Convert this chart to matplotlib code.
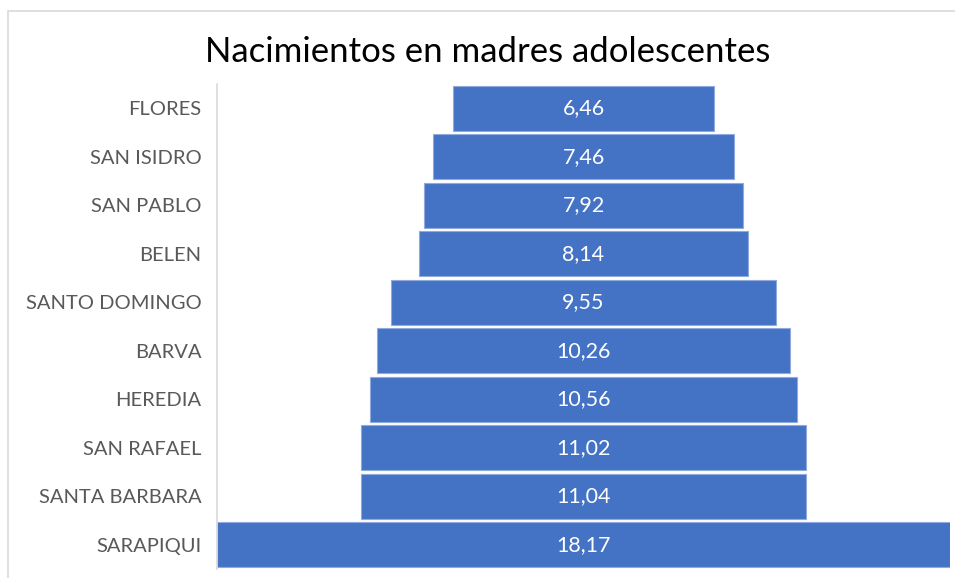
import matplotlib.pyplot as plt
from matplotlib.patches import Rectangle

# ============================================================
# DATA
# ============================================================

cantones = [
    "FLORES", "SAN ISIDRO", "SAN PABLO", "BELEN", "SANTO DOMINGO",
    "BARVA", "HEREDIA", "SAN RAFAEL", "SANTA BARBARA", "SARAPIQUI",
]
valores = [6.46, 7.46, 7.92, 8.14, 9.55, 10.26, 10.56, 11.02, 11.04, 18.17]
etiquetas = ["6,46", "7,46", "7,92", "8,14", "9,55",
             "10,26", "10,56", "11,02", "11,04", "18,17"]

titulo = "Nacimientos en madres adolescentes"

# ============================================================
# PLOT (funnel)
# ============================================================

W, H = 955, 578
fig = plt.figure(figsize=(W / 100, H / 100), dpi=100)
plt.rcParams["font.family"] = ["Lato", "DejaVu Sans"]

# chart border (cropped on right/bottom in the reference)
fig.patches.append(Rectangle((8 / W, -0.1), 1.2, 1 - 11 / H + 0.1,
                             transform=fig.transFigure, fill=False,
                             edgecolor="#d9d9d9", linewidth=1.2))

ax = fig.add_axes([217 / W, 1 - 569 / H, (950 - 217) / W, (569 - 84) / H])

vmax = max(valores)
pos = list(range(len(cantones)))
lefts = [(vmax - v) / 2 for v in valores]

ax.barh(pos, valores, left=lefts, height=0.92, color="#4472C4",
        edgecolor="#8faadc", linewidth=0.8)

for p, l, v, t in zip(pos, lefts, valores, etiquetas):
    ax.text(l + v / 2, p, t, ha="center", va="center",
            color="white", fontsize=15.5)

ax.set_xlim(0, vmax)
ax.set_ylim(len(cantones) - 0.5, -0.5)
ax.set_yticks(pos)
ax.set_yticklabels(cantones, fontsize=14.5, color="#595959")
ax.tick_params(axis="y", length=0, pad=11)
ax.set_xticks([])

for s in ["top", "right", "bottom"]:
    ax.spines[s].set_visible(False)
ax.spines["left"].set_color("#d9d9d9")
ax.spines["left"].set_linewidth(1.2)

fig.text(487.5 / W, 1 - 62 / H, titulo, ha="center", va="baseline",
         fontsize=25, color="#000000")

plt.savefig("out.png", dpi=100)
